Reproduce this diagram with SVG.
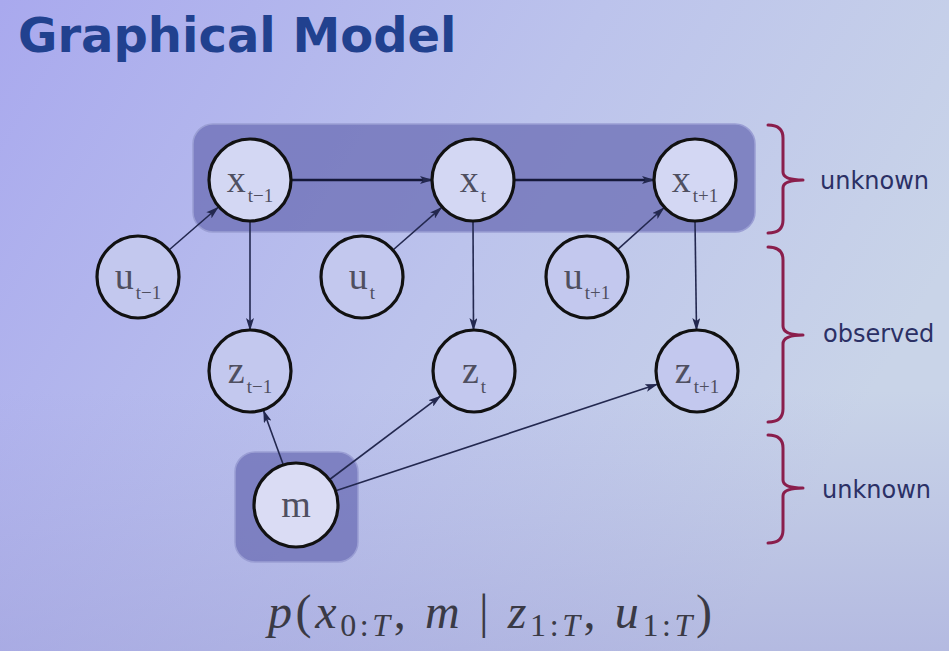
<svg xmlns="http://www.w3.org/2000/svg" width="949" height="651" viewBox="0 0 949 651">
<defs>
<linearGradient id="bg" x1="0" y1="0" x2="1" y2="0.4">
<stop offset="0" stop-color="#a9a9ee"/>
<stop offset="0.55" stop-color="#bcc3ec"/>
<stop offset="1" stop-color="#c9d4e8"/>
</linearGradient>
<linearGradient id="bgb" x1="0" y1="0" x2="0" y2="1">
<stop offset="0.6" stop-color="#9a9ad8" stop-opacity="0"/>
<stop offset="1" stop-color="#9a9ad8" stop-opacity="0.45"/>
</linearGradient>
<marker id="ah" markerUnits="userSpaceOnUse" markerWidth="13" markerHeight="8" refX="12" refY="4" orient="auto">
<path d="M0,0 L13,4 L0,8 L3,4 z" fill="#23284f"/>
</marker>
<style>
.node circle{stroke:#111;stroke-width:3.2;fill:#c3c8ee}
.node.light circle{fill:#d3d7f3}
.lbl{font-family:"Liberation Serif","Times New Roman",serif;font-size:38px;fill:#4f4f60;text-anchor:middle}
.sub{font-size:19px}
.panel{fill:#6f72b8;fill-opacity:0.8;stroke:#9a9ed4;stroke-width:1.5}
.edge{stroke:#23284f;stroke-width:1.6;fill:none;marker-end:url(#ah)}
.edge.thick{stroke-width:2.6;stroke:#15183a}
.brace{stroke:#8a1e4c;stroke-width:3;fill:none;stroke-linecap:round;stroke-linejoin:round}
.side{font-family:"DejaVu Sans","Verdana",sans-serif;font-size:24px;fill:#2b3065}
.f{font-family:"Liberation Serif","Times New Roman",serif;font-size:48px;fill:#3a3a45}
</style>
</defs>
<rect width="949" height="651" fill="url(#bg)"/>
<rect width="949" height="651" fill="url(#bgb)"/>
<text x="18" y="52" font-family="'DejaVu Sans',Verdana,sans-serif" font-weight="bold" font-size="48" fill="#21418f">Graphical Model</text>
<rect id="panel-x" class="panel" x="193" y="124" width="562" height="108" rx="20"/>
<rect id="panel-m" class="panel" x="235" y="452" width="123" height="110" rx="20"/>
<g id="connectors">
<line class="edge thick" x1="291" y1="180" x2="432" y2="180"/>
<line class="edge thick" x1="514" y1="180" x2="654" y2="180"/>
<line class="edge" x1="169" y1="250" x2="218" y2="207.5"/>
<line class="edge" x1="393" y1="250" x2="441.4" y2="207.6"/>
<line class="edge" x1="617.5" y1="249.6" x2="663.8" y2="208"/>
<line class="edge" x1="250" y1="221" x2="250" y2="330"/>
<line class="edge" x1="473" y1="221" x2="473.5" y2="330"/>
<line class="edge" x1="695" y1="221" x2="696.5" y2="330"/>
<line class="edge" x1="283" y1="464" x2="263.6" y2="410.7"/>
<line class="edge" x1="329" y1="480" x2="440.4" y2="396.2"/>
<line class="edge" x1="335" y1="491" x2="657.2" y2="384.3"/>
</g>
<g id="x_tm1" class="node light"><circle cx="250" cy="180" r="41"/><text class="lbl" x="250" y="192">x<tspan class="sub" dx="2" dy="10">t−1</tspan></text></g>
<g id="x_t" class="node light"><circle cx="473" cy="180" r="41"/><text class="lbl" x="473" y="192">x<tspan class="sub" dx="2" dy="10">t</tspan></text></g>
<g id="x_tp1" class="node light"><circle cx="695" cy="180" r="41"/><text class="lbl" x="695" y="192">x<tspan class="sub" dx="2" dy="10">t+1</tspan></text></g>
<g id="u_tm1" class="node"><circle cx="138" cy="277" r="41"/><text class="lbl" x="138" y="289">u<tspan class="sub" dx="2" dy="10">t−1</tspan></text></g>
<g id="u_t" class="node"><circle cx="362" cy="277" r="41"/><text class="lbl" x="362" y="289">u<tspan class="sub" dx="2" dy="10">t</tspan></text></g>
<g id="u_tp1" class="node"><circle cx="587" cy="277" r="41"/><text class="lbl" x="587" y="289">u<tspan class="sub" dx="2" dy="10">t+1</tspan></text></g>
<g id="z_tm1" class="node"><circle cx="250" cy="371" r="41"/><text class="lbl" x="250" y="383">z<tspan class="sub" dx="2" dy="10">t−1</tspan></text></g>
<g id="z_t" class="node"><circle cx="474" cy="371" r="41"/><text class="lbl" x="474" y="383">z<tspan class="sub" dx="2" dy="10">t</tspan></text></g>
<g id="z_tp1" class="node"><circle cx="697" cy="371" r="41"/><text class="lbl" x="697" y="383">z<tspan class="sub" dx="2" dy="10">t+1</tspan></text></g>
<g id="m" class="node light"><circle cx="296" cy="505" r="42" style="fill:#dadcf4"/><text class="lbl" x="296" y="517">m</text></g>
<g id="braces">
<path class="brace" d="M768,125 Q783,125 783,138 L783,172 Q783,180 803,180 Q783,180 783,188 L783,220 Q783,233 768,233"/>
<path class="brace" d="M768,247 Q783,247 783,260 L783,326 Q783,335 803,335 Q783,335 783,344 L783,409 Q783,422 768,422"/>
<path class="brace" d="M768,435 Q783,435 783,448 L783,480 Q783,488 803,488 Q783,488 783,496 L783,530 Q783,543 768,543"/>
</g>
<text class="side" x="820" y="189">unknown</text>
<text class="side" x="823" y="342">observed</text>
<text class="side" x="822" y="498">unknown</text>
<text class="f" x="268" y="628" textLength="444" lengthAdjust="spacing"><tspan font-style="italic">p</tspan>(<tspan font-style="italic">x</tspan><tspan font-size="32" dy="8">0:<tspan font-style="italic">T</tspan></tspan><tspan dy="-8">, </tspan><tspan font-style="italic">m</tspan> | <tspan font-style="italic">z</tspan><tspan font-size="32" dy="8">1:<tspan font-style="italic">T</tspan></tspan><tspan dy="-8">, </tspan><tspan font-style="italic">u</tspan><tspan font-size="32" dy="8">1:<tspan font-style="italic">T</tspan></tspan><tspan dy="-8">)</tspan></text>
</svg>
